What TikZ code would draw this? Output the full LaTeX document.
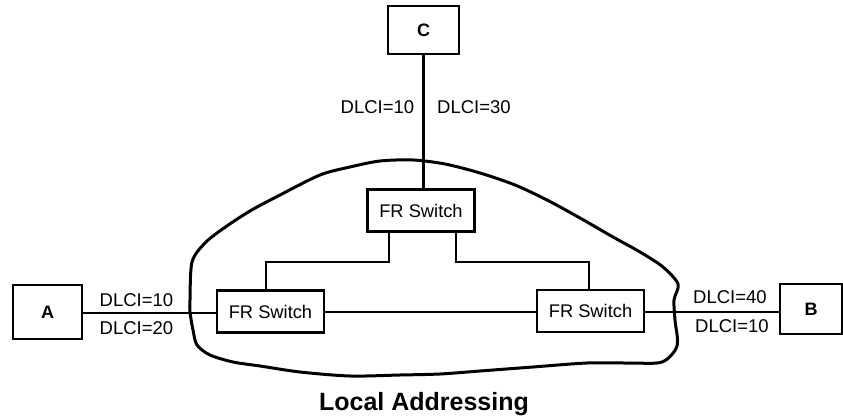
\documentclass[tikz,border=0pt]{standalone}
\usepackage{fontspec}
\setmainfont{Liberation Sans}
\begin{document}
\begin{tikzpicture}[x=1pt,y=-1pt,
  endbox/.style={draw, line width=2.6pt, minimum width=69pt, minimum height=52pt, inner sep=0pt, font=\fontsize{18}{20}\selectfont\bfseries},
  switchbox/.style={draw, line width=2.3pt, minimum width=107pt, minimum height=42pt, inner sep=0pt, font=\fontsize{18.3}{20}\selectfont},
  dlci/.style={anchor=base, inner sep=0pt, font=\fontsize{18.5}{20}\selectfont},
  link/.style={line width=2.4pt},
  inner/.style={line width=2pt},
  cloud/.style={line width=3pt, line join=round}]
\useasboundingbox (0,0) rectangle (843,419);
% cloud
\draw[cloud] plot[smooth cycle, tension=0.5] coordinates {
 (190,300) (192,262) (205,243) (224,228) (250,211) (280,195) (320,175) (350,167)
 (380,161) (413,160) (445,164) (480,173) (515,185) (547,200) (580,218) (613,237)
 (640,252) (663,267) (678,284) (674,300) (675,320) (677,346) (662,362) (630,363)
 (587,363) (533,367) (480,371) (440,374) (400,375) (350,376) (300,372) (260,366)
 (233,362) (210,355) (197,345) (193,330) (190,312)};
% nodes
\node[endbox, minimum width=71pt, minimum height=48pt] (C) at (423.5,30) {C};
\node[endbox, minimum height=54pt] (A) at (47.5,312) {A};
\node[endbox, minimum width=62pt, minimum height=50pt] (B) at (811,309) {B};
\node[switchbox, fill=white] (ST) at (421,210.5) {FR Switch};
\node[switchbox, fill=white] (SL) at (270.5,311.5) {FR Switch};
\node[switchbox, fill=white] (SR) at (590.5,311) {FR Switch};
% connectors
\draw[link] (C.south) -- (C.south |- ST.north);
\draw[link] (A.east |- 0,313) -- (SL.west |- 0,313);
\draw[inner] (SL.east |- 0,312) -- (SR.west |- 0,312);
\draw[link] (SR.east |- 0,312) -- (B.west |- 0,312);
\draw[inner] ([xshift=-32pt]ST.south) -- ++(0,29) -| ([xshift=-4.5pt]SL.north);
\draw[inner] ([xshift=35pt]ST.south) -- ++(0,29) -| ([xshift=-1.5pt]SR.north);
% labels
\node[dlci] (l1) at (377.5,114) {DLCI=10};
\node[dlci] (l2) at (474,114) {DLCI=30};
\node[dlci] (l3) at (136.5,307) {DLCI=10};
\node[dlci] (l4) at (136.5,335) {DLCI=20};
\node[dlci] (l5) at (730,304) {DLCI=40};
\node[dlci] (l6) at (732,333) {DLCI=10};
\node[anchor=base, inner sep=0pt, font=\fontsize{25}{28}\selectfont\bfseries] (title) at (424,410) {Local Addressing};
\end{tikzpicture}
\end{document}
